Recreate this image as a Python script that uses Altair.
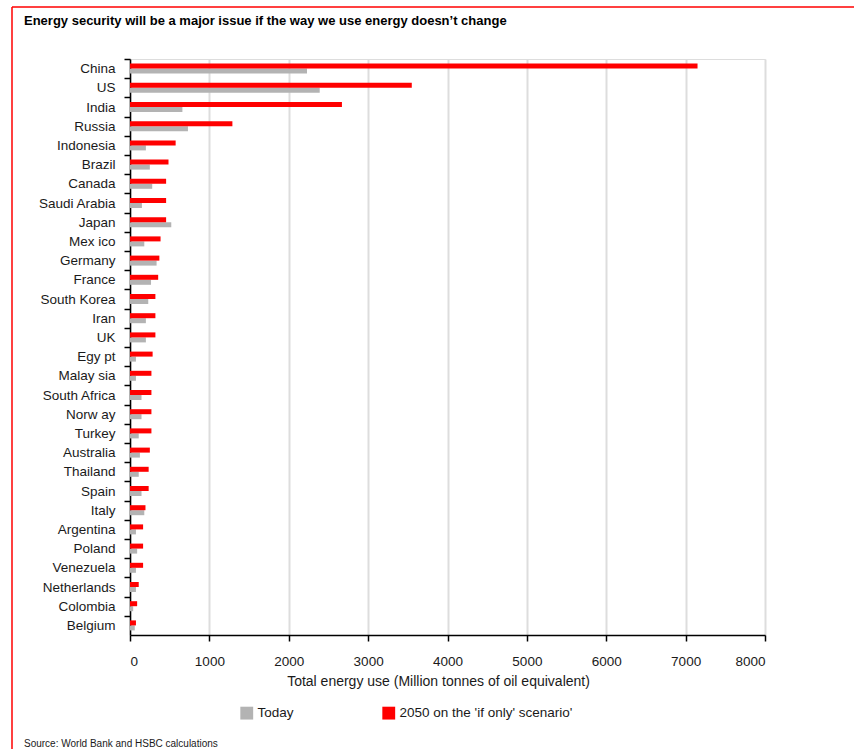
import altair as alt
import pandas as pd

countries = ["China", "US", "India", "Russia", "Indonesia", "Brazil", "Canada", "Saudi Arabia",
             "Japan", "Mex ico", "Germany", "France", "South Korea", "Iran", "UK", "Egy pt",
             "Malay sia", "South Africa", "Norw ay", "Turkey", "Australia", "Thailand", "Spain",
             "Italy", "Argentina", "Poland", "Venezuela", "Netherlands", "Colombia", "Belgium"]
today = [2230, 2390, 660, 730, 200, 250, 280, 150, 520, 180, 335, 265, 230, 200, 200, 75,
         75, 145, 145, 110, 125, 110, 145, 180, 75, 90, 75, 75, 40, 60]
y2050 = [7150, 3550, 2670, 1290, 575, 485, 455, 455, 455, 385, 370, 355, 320, 320, 320, 285,
         270, 270, 270, 270, 250, 235, 235, 195, 165, 165, 165, 110, 90, 75]
series_names = ["Today", "2050 on the 'if only' scenario'"]
series_colors = ["#b3b3b3", "#ff0000"]

title_text = "Energy security will be a major issue if the way we use energy doesn\u2019t change"
x_title = "Total energy use (Million tonnes of oil equivalent)"
source_text = "Source: World Bank and HSBC calculations"

rows = []
for c, t, f in zip(countries, today, y2050):
    rows.append({"country": c, "series": series_names[0], "value": t})
    rows.append({"country": c, "series": series_names[1], "value": f})
df = pd.DataFrame(rows)

FONT = "Liberation Sans"
W, H = 635, 576
step = H / len(countries)

bars = alt.Chart(df).mark_bar().encode(
    x=alt.X("value:Q",
            scale=alt.Scale(domain=[0, 8000], nice=False),
            axis=alt.Axis(values=list(range(0, 8001, 1000)), format="d", title=x_title,
                          grid=True, gridColor="#dddddd", gridWidth=2,
                          domainColor="#000000", domainWidth=1.5,
                          tickColor="#000000", tickWidth=1.5, tickSize=6,
                          labelFontSize=13.5, labelPadding=13, labelColor="#1a1a1a",
                          labelFont=FONT, titleFont=FONT, titleFontSize=14,
                          titleFontWeight="normal", titleColor="#1a1a1a", titlePadding=7,
                          titleX=308)),
    y=alt.Y("country:N", sort=countries,
            scale=alt.Scale(paddingInner=0, paddingOuter=0),
            axis=alt.Axis(title=None, tickOffset=-step / 2, labelOffset=step / 2,
                          domainColor="#000000", domainWidth=1.5,
                          tickColor="#000000", tickWidth=1.5, tickSize=6,
                          labelFontSize=13.5, labelPadding=9, labelColor="#1a1a1a",
                          labelFont=FONT, grid=False)),
    yOffset=alt.YOffset("series:N", sort=[series_names[1], series_names[0]],
                        scale=alt.Scale(paddingInner=0, paddingOuter=0.92)),
    color=alt.Color("series:N",
                    scale=alt.Scale(domain=series_names, range=series_colors),
                    legend=alt.Legend(title=None, orient="none", legendX=110, legendY=647,
                                      direction="horizontal", columns=2, columnPadding=88,
                                      symbolType="square", symbolSize=165,
                                      symbolStrokeWidth=0, labelFontSize=13.5, labelLimit=400,
                                      labelFont=FONT, labelColor="#1a1a1a", labelOffset=4)),
)

one = pd.DataFrame({"t": [0]})

title = alt.Chart(pd.DataFrame({"t": [title_text]})).mark_text(
    align="left", baseline="middle", fontSize=13, font=FONT, fontWeight="bold", color="#000000"
).encode(x=alt.value(-106), y=alt.value(-38), text="t:N")

src = alt.Chart(pd.DataFrame({"t": [source_text]})).mark_text(
    align="left", baseline="middle", fontSize=10, font=FONT, color="#1a1a1a"
).encode(x=alt.value(-106), y=alt.value(685), text="t:N")

border_left = alt.Chart(one).mark_rule(color="#ff0000", strokeWidth=1.5).encode(
    x=alt.value(-118), y=alt.value(-52), y2=alt.value(700))
border_top = alt.Chart(one).mark_rule(color="#ff0000", strokeWidth=1.5).encode(
    x=alt.value(-118), x2=alt.value(740), y=alt.value(-52))

chart = alt.layer(bars, title, src, border_left, border_top).properties(
    width=W, height=H,
    autosize=alt.AutoSizeParams(type="none"),
    padding={"left": 130, "top": 59, "right": 89, "bottom": 114},
).configure_view(strokeWidth=0).configure(background="white")

chart.save("out.html", embed_options={"renderer": "svg", "actions": False})
